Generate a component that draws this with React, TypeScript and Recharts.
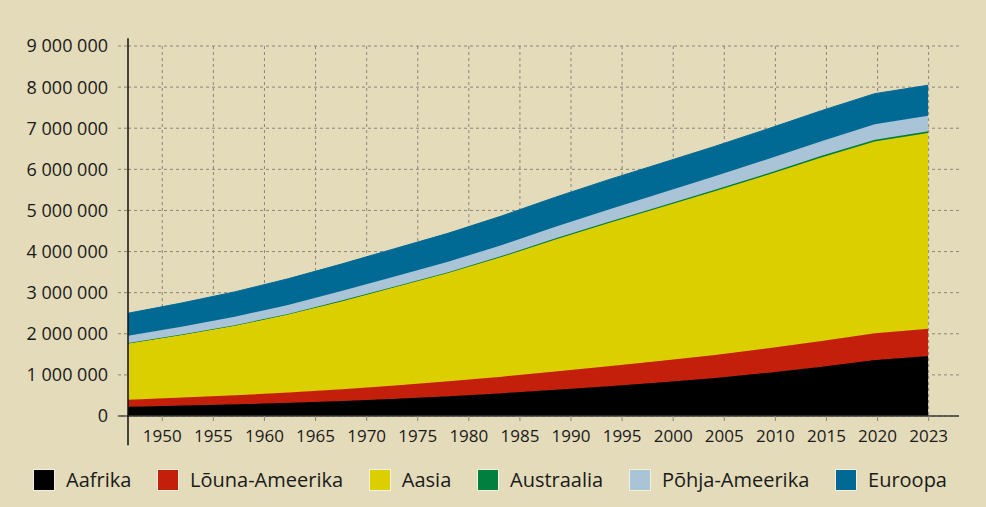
import {
	Area,
	AreaChart,
	CartesianGrid,
	ReferenceLine,
	XAxis,
	YAxis,
} from "recharts";

// population in thousands
const years = ["1950", "1955", "1960", "1965", "1970", "1975", "1980", "1985", "1990", "1995", "2000", "2005", "2010", "2015", "2020", "2023"];
const aafrika = [228, 254, 284, 321, 365, 418, 482, 556, 638, 726, 819, 926, 1055, 1201, 1361, 1461].map((v) => v * 1000);
const louna = [169, 193, 220, 253, 287, 324, 362, 401, 443, 483, 522, 556, 591, 624, 652, 664].map((v) => v * 1000);
const aasia = [1366, 1521, 1689, 1892, 2136, 2389, 2632, 2908, 3207, 3482, 3738, 3986, 4224, 4463, 4666, 4756].map((v) => v * 1000);
const austraalia = [13, 14, 16, 18, 20, 22, 23, 25, 27, 29, 31, 34, 37, 40, 43, 45].map((v) => v * 1000);
const pohja = [173, 187, 204, 218, 230, 240, 252, 265, 280, 296, 313, 327, 343, 357, 373, 377].map((v) => v * 1000);
const euroopa = [550, 577, 606, 635, 657, 677, 693, 707, 721, 727, 726, 729, 736, 742, 746, 742].map((v) => v * 1000);
const yTicks = [0, 1000000, 2000000, 3000000, 4000000, 5000000, 6000000, 7000000, 8000000, 9000000];

const series = [
	{ key: "aafrika", name: "Aafrika", color: "#000000" },
	{ key: "louna", name: "Lõuna-Ameerika", color: "#c41f0b" },
	{ key: "aasia", name: "Aasia", color: "#dccf00" },
	{ key: "austraalia", name: "Austraalia", color: "#007f3d" },
	{ key: "pohja", name: "Põhja-Ameerika", color: "#aac4d7" },
	{ key: "euroopa", name: "Euroopa", color: "#006994" },
];

const data = years.map((year, i) => ({
	idx: i,
	year,
	aafrika: aafrika[i],
	louna: louna[i],
	aasia: aasia[i],
	austraalia: austraalia[i],
	pohja: pohja[i],
	euroopa: euroopa[i],
}));

const labelTicks = years.map((_, i) => i);

const BG = "#e3dbb9";

function fmt(v: number): string {
	return String(v).replace(/\B(?=(\d{3})+(?!\d))/g, " ");
}

export default function App() {
	return (
		<div
			style={{
				position: "absolute",
				left: 0,
				top: 0,
				width: 986,
				height: 507,
				background: BG,
				fontFamily: "'Open Sans', sans-serif",
				color: "#1a1a1a",
			}}
		>
			<AreaChart
				width={986}
				height={456}
				data={data}
				margin={{ top: 46, right: 27, bottom: 0, left: 0 }}
			>
				<CartesianGrid
					xAxisId="lab"
					strokeDasharray="3 3"
					stroke="#8c877a"
					verticalValues={labelTicks}
					horizontalValues={yTicks}
				/>
				<XAxis
					xAxisId="lab"
					dataKey="idx"
					type="number"
					domain={[-0.671, 15.594]}
					allowDataOverflow
					ticks={labelTicks}
					tickFormatter={(j: number) => years[j]}
					interval={0}
					height={40}
					axisLine={false}
					tickSize={5}
					tickMargin={9}
					tickLine={{ stroke: "#8c877a" }}
					tick={{ fill: "#1a1a1a", fontSize: 17 }}
				/>
				<XAxis
					xAxisId="data"
					dataKey="idx"
					type="number"
					domain={[0, 15.58]}
					allowDataOverflow
					height={0}
					hide
				/>
				<YAxis
					domain={[0, 9000000]}
					ticks={yTicks}
					interval={0}
					width={128}
					axisLine={false}
					tickSize={10}
					tickMargin={10}
					tickLine={{ stroke: "#8c877a", strokeDasharray: "3 3" }}
					tick={{ fill: "#1a1a1a", fontSize: 18 }}
					tickFormatter={fmt}
				/>
				{series.map((s) => (
					<Area
						key={s.key}
						xAxisId="data"
						type="linear"
						dataKey={s.key}
						name={s.name}
						stackId="1"
						fill={s.color}
						fillOpacity={1}
						stroke={s.color}
						strokeWidth={1}
						isAnimationActive={false}
					/>
				))}
				<ReferenceLine
					xAxisId="data"
					segment={[
						{ x: -0.19, y: 0 },
						{ x: 15.58, y: 0 },
					]}
					stroke="#3a3a3a"
					strokeWidth={1.5}
					ifOverflow="visible"
				/>
				<ReferenceLine
					xAxisId="data"
					segment={[
						{ x: 0, y: -710000 },
						{ x: 0, y: 9190000 },
					]}
					stroke="#111111"
					strokeWidth={1.5}
					ifOverflow="visible"
				/>
			</AreaChart>
			<div
				style={{
					position: "absolute",
					left: 33,
					top: 469,
					width: 914,
					display: "flex",
					justifyContent: "space-between",
					alignItems: "center",
					fontSize: 20,
					lineHeight: "22px",
				}}
			>
				{series.map((s) => (
					<div key={s.key} style={{ display: "flex", alignItems: "center" }}>
						<span
							style={{
								display: "inline-block",
								width: 20,
								height: 20,
								background: s.color,
								border: "1px solid #f4f0e0",
								marginRight: 11,
							}}
						/>
						<span>{s.name}</span>
					</div>
				))}
			</div>
		</div>
	);
}
